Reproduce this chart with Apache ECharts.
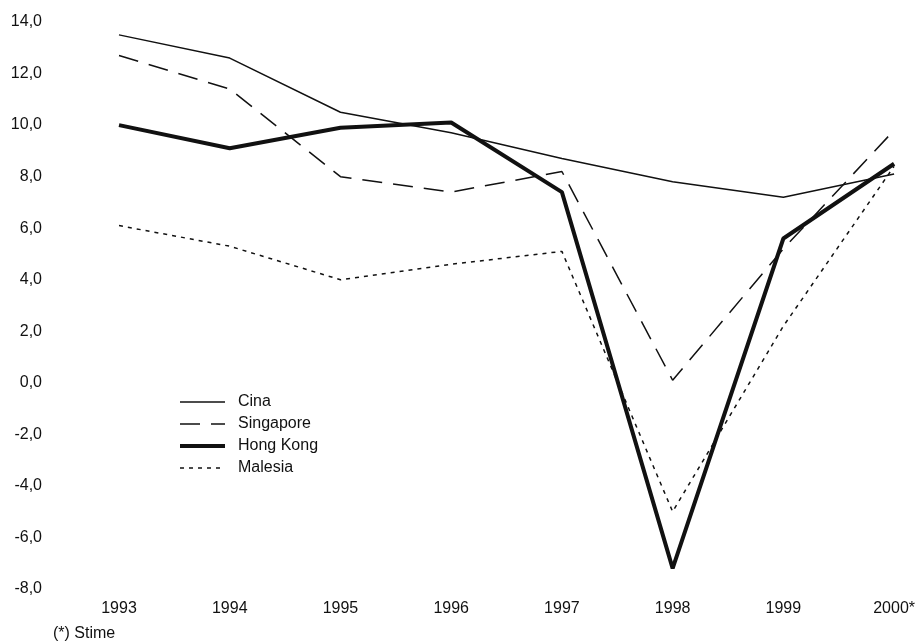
<!DOCTYPE html>
<html>
<head>
<meta charset="utf-8">
<script src="https://cdn.jsdelivr.net/npm/echarts@6/dist/echarts.min.js"></script>
<style>
  html, body { margin: 0; padding: 0; background: #fff; }
  #chart { width: 918px; height: 644px; }
</style>
</head>
<body>
<div id="chart"></div>
<script>
// anni (2000 = stima)
const years = ['1993', '1994', '1995', '1996', '1997', '1998', '1999', '2000*']
// crescita PIL, valori
const cina = [13.5, 12.6, 10.5, 9.7, 8.7, 7.8, 7.2, 8.1]
const singapore = [12.7, 11.4, 8.0, 7.4, 8.2, 0.1, 5.2, 9.8]
const hongKong = [10.0, 9.1, 9.9, 10.1, 7.4, -7.2, 5.6, 8.5]
const malesia = [6.1, 5.3, 4.0, 4.6, 5.1, -5.0, 2.2, 8.4]

const font = 'Liberation Sans, Arial, sans-serif'
const ink = '#111'

const myChart = echarts.init(document.getElementById('chart'))

const mkLine = (name, data, width, type) => ({
  name: name,
  type: 'line',
  data: data,
  symbol: 'none',
  animation: false,
  lineStyle: { color: ink, width: width, type: type },
  itemStyle: { color: ink }
})

const option = {
  backgroundColor: '#fff',
  textStyle: { fontFamily: font, color: ink },
  grid: { left: 119, right: 18, top: 22, bottom: 55 },
  legend: {
    left: 173,
    top: 389,
    orient: 'vertical',
    itemWidth: 45,
    itemHeight: 14,
    itemGap: 6,
    itemStyle: { opacity: 0 },
    textStyle: { fontFamily: font, fontSize: 16, color: ink, padding: [0, 0, 0, 8] },
    data: [
      { name: 'Cina', lineStyle: { width: 1.5 } },
      { name: 'Singapore', lineStyle: { width: 1.5 } },
      { name: 'Hong Kong', lineStyle: { width: 4 } },
      { name: 'Malesia', lineStyle: { width: 1.5 } }
    ]
  },
  xAxis: {
    type: 'category',
    data: years,
    boundaryGap: false,
    axisLine: { show: false },
    axisTick: { show: false },
    splitLine: { show: false },
    axisLabel: { color: ink, fontSize: 16, fontFamily: font, margin: 12 }
  },
  yAxis: {
    type: 'value',
    min: -8,
    max: 14,
    interval: 2,
    axisLine: { show: false },
    axisTick: { show: false },
    splitLine: { show: false },
    axisLabel: {
      color: ink,
      fontSize: 16,
      fontFamily: font,
      margin: 77,
      formatter: (v) => v.toFixed(1).replace('.', ',')
    }
  },
  graphic: [{
    type: 'text',
    left: 53,
    top: 626,
    style: { text: '(*) Stime', fontSize: 16, fontFamily: font, fill: ink }
  }],
  series: [
    mkLine('Cina', cina, 1.5, 'solid'),
    mkLine('Singapore', singapore, 1.5, [20, 11]),
    mkLine('Hong Kong', hongKong, 4, 'solid'),
    mkLine('Malesia', malesia, 1.5, [4, 5])
  ]
}
myChart.setOption(option)
</script>
</body>
</html>
